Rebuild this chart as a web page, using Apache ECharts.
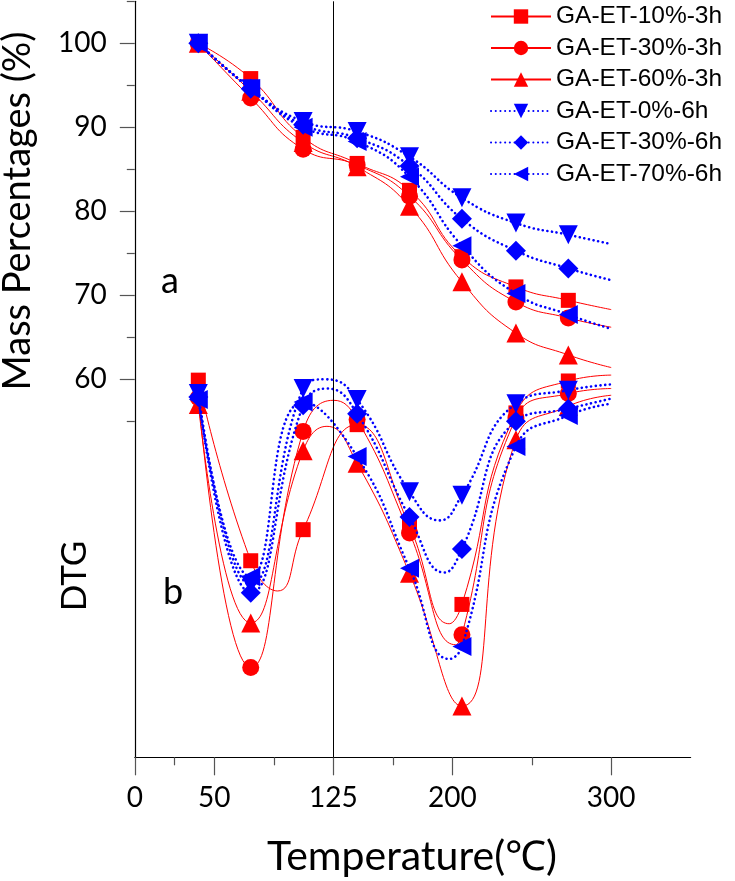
<!DOCTYPE html>
<html>
<head>
<meta charset="utf-8">
<script src="https://cdn.jsdelivr.net/npm/echarts@6/dist/echarts.min.js"></script>
<style>
html,body{margin:0;padding:0;background:#fff;}
#chart{width:735px;height:881px;}
</style>
</head>
<body>
<div id="chart"></div>
<script>
// Temperatures of the measured points; the last one (300) is the end of each curve (no marker)
const temps = [40, 73, 106, 140, 173, 206, 240, 273, 300];

// Series names
const seriesNames = ['GA-ET-10%-3h', 'GA-ET-30%-3h', 'GA-ET-60%-3h', 'GA-ET-0%-6h', 'GA-ET-30%-6h', 'GA-ET-70%-6h'];

// (a) Mass percentages (%)
const mass10_3h = [100, 95.8, 88.8, 85.7, 82.5, 74.6, 71.0, 69.4, 68.3];
const mass30_3h = [100, 93.5, 87.4, 85.5, 81.8, 74.2, 69.2, 67.3, 66.2];
const mass60_3h = [100, 94.3, 88.2, 85.3, 80.6, 71.6, 65.5, 62.9, 61.4];
const mass0_6h  = [100, 94.6, 90.7, 89.5, 86.5, 81.6, 78.6, 77.2, 76.1];
const mass30_6h = [100, 94.6, 90.3, 88.7, 85.4, 79.1, 75.3, 73.2, 71.8];
const mass70_6h = [100, 94.6, 90.0, 88.3, 84.1, 75.9, 70.2, 67.7, 66.0];

// (b) DTG curves, drawn in the same vertical units (arbitrary, below 60)
const dtg10_3h = [59.9, 38.4, 42.1, 54.6, 42.5, 33.2, 56.0, 59.8, 60.5];
const dtg30_3h = [57.8, 25.7, 53.8, 55.2, 41.7, 29.6, 55.4, 58.3, 58.9];
const dtg60_3h = [57.0, 31.0, 51.5, 50.0, 36.9, 21.1, 52.8, 56.8, 58.1];
const dtg0_6h  = [58.3, 35.5, 58.9, 57.6, 46.6, 46.2, 57.1, 58.7, 59.4];
const dtg30_6h = [57.9, 34.6, 56.9, 55.9, 43.6, 39.8, 55.0, 56.5, 57.7];
const dtg70_6h = [57.6, 36.5, 57.3, 50.8, 37.5, 28.2, 52.0, 55.7, 57.1];

// Extra points of the DTG curves (peaks / troughs between markers), no marker
const dtg10_3hCurve = [[90, 34.8], [198, 30.9]];
const dtg30_3hCurve = [[125, 57.5], [202, 28.4]];
const dtg60_3hCurve = [[121, 54.4]];
const dtg0_6hCurve  = [[120, 60.0], [192, 43.2]];
const dtg30_6hCurve = [[121, 58.9], [195, 37.0]];
const dtg70_6hCurve = [[198, 26.7]];

// Axis ticks
const xMajorTicks = [0, 50, 125, 200, 300];
const xMinorTicks = [25, 87.5, 162.5, 250];
const yMajorTicks = [60, 70, 80, 90, 100];
const yMinorTicks = [55, 65, 75, 85, 95, 105];
const refLineX = 125;

const massSets = [mass10_3h, mass30_3h, mass60_3h, mass0_6h, mass30_6h, mass70_6h];
const dtgSets = [dtg10_3h, dtg30_3h, dtg60_3h, dtg0_6h, dtg30_6h, dtg70_6h];
const dtgCurves = [dtg10_3hCurve, dtg30_3hCurve, dtg60_3hCurve, dtg0_6hCurve, dtg30_6hCurve, dtg70_6hCurve];

// Styles
const RED = '#FF0000', BLUE = '#0000FF';
const styles = [
  {color: RED, symbol: 'rect', rotate: 0, size: 15, dotted: false},
  {color: RED, symbol: 'circle', rotate: 0, size: 17, dotted: false},
  {color: RED, symbol: 'triangle', rotate: 0, size: 19, dotted: false},
  {color: BLUE, symbol: 'triangle', rotate: 180, size: 19, dotted: true},
  {color: BLUE, symbol: 'diamond', rotate: 0, size: 20, dotted: true},
  {color: BLUE, symbol: 'triangle', rotate: 90, size: 19, dotted: true}
];

function buildData(vals, extra) {
  const pts = vals.map(function (v, i) {
    if (i === vals.length - 1) return {value: [temps[i], v], symbol: 'none'};
    return {value: [temps[i], v]};
  });
  (extra || []).forEach(function (p) { pts.push({value: [p[0], p[1]], symbol: 'none'}); });
  pts.sort(function (a, b) { return a.value[0] - b.value[0]; });
  return pts;
}

const series = [];
[massSets, dtgSets].forEach(function (sets, panel) {
  sets.forEach(function (vals, k) {
    const st = styles[k];
    series.push({
      name: seriesNames[k],
      type: 'line',
      xAxisIndex: 0,
      yAxisIndex: 0,
      data: buildData(vals, panel === 1 ? dtgCurves[k] : null),
      smooth: 0.5,
      symbol: st.symbol,
      symbolRotate: st.rotate,
      symbolSize: st.size,
      itemStyle: {color: st.color},
      lineStyle: st.dotted
        ? {color: st.color, width: 2.6, type: [0.1, 4.6], cap: 'round'}
        : {color: st.color, width: 1, type: 'solid'},
      emphasis: {disabled: true},
      z: st.dotted ? 3 : 2
    });
  });
});
// vertical reference line at 125
series[0].markLine = {
  silent: true,
  symbol: 'none',
  label: {show: false},
  lineStyle: {color: '#000', width: 1, type: 'solid'},
  data: [{xAxis: refLineX}]
};

const TXT = 'Lato, "Open Sans", sans-serif';

const chart = echarts.init(document.getElementById('chart'), null, {renderer: 'canvas'});
chart.setOption({
  animation: false,
  backgroundColor: '#fff',
  grid: {left: 134.8, top: 1.3, width: 555.8, height: 756},
  xAxis: [
    {
      type: 'value', min: 0, max: 350,
      axisLine: {show: true, lineStyle: {color: '#000', width: 1.2}},
      axisTick: {show: true, customValues: xMajorTicks, length: 18, lineStyle: {color: '#555', width: 1.2}},
      axisLabel: {show: true, customValues: xMajorTicks, margin: 27, fontSize: 28, color: '#000', fontFamily: TXT},
      splitLine: {show: false}
    },
    {
      type: 'value', min: 0, max: 350, position: 'bottom',
      axisLine: {show: false},
      axisTick: {show: true, customValues: xMinorTicks, length: 8, lineStyle: {color: '#555', width: 1.2}},
      axisLabel: {show: false},
      splitLine: {show: false}
    }
  ],
  yAxis: [
    {
      type: 'value', min: 15, max: 105,
      axisLine: {show: true, lineStyle: {color: '#000', width: 1.2}},
      axisTick: {show: true, customValues: yMajorTicks, length: 15, lineStyle: {color: '#555', width: 1.2}},
      axisLabel: {show: true, customValues: yMajorTicks, margin: 28, fontSize: 28, color: '#000', fontFamily: TXT},
      splitLine: {show: false}
    },
    {
      type: 'value', min: 15, max: 105, position: 'left',
      axisLine: {show: false},
      axisTick: {show: true, customValues: yMinorTicks, length: 8, lineStyle: {color: '#555', width: 1.2}},
      axisLabel: {show: false},
      splitLine: {show: false}
    }
  ],
  legend: {
    data: seriesNames,
    orient: 'vertical',
    left: 490,
    top: 4,
    padding: 0,
    itemWidth: 60,
    itemHeight: 18,
    itemGap: 6.5,
    selectedMode: false,
    textStyle: {fontFamily: '"Liberation Sans", Arial, sans-serif', fontSize: 24.5, color: '#000'}
  },
  graphic: [
    {type: 'text', x: 18, y: 211, rotation: Math.PI / 2,
     style: {text: 'Mass Percentages (%)', font: '38px ' + TXT, fill: '#000', align: 'center', verticalAlign: 'middle'}},
    {type: 'text', x: 75, y: 576, rotation: Math.PI / 2,
     style: {text: 'DTG', font: '35px ' + TXT, fill: '#000', align: 'center', verticalAlign: 'middle'}},
    {type: 'text', x: 170, y: 281,
     style: {text: 'a', font: '36px ' + TXT, fill: '#000', align: 'center', verticalAlign: 'middle'}},
    {type: 'text', x: 173, y: 592,
     style: {text: 'b', font: '36px ' + TXT, fill: '#000', align: 'center', verticalAlign: 'middle'}},
    {type: 'text', x: 412, y: 857,
     style: {text: 'Temperature(℃)', font: '41px ' + TXT, fill: '#000', align: 'center', verticalAlign: 'middle'}}
  ],
  series: series
});
</script>
</body>
</html>
